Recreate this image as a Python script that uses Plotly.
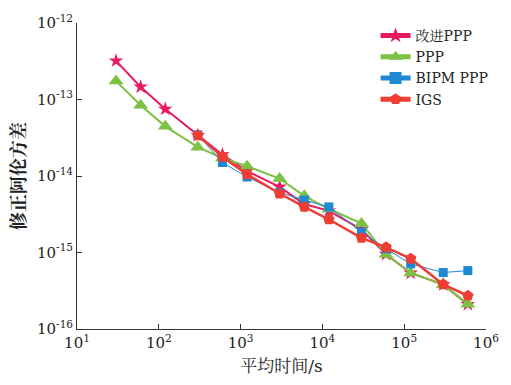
import plotly.graph_objects as go

tau_full = [30, 60, 120, 300, 600, 1200, 3000, 6000, 12000, 30000, 60000, 120000, 300000, 600000]
tau_short = [300, 600, 1200, 3000, 6000, 12000, 30000, 60000, 120000, 300000, 600000]

improved_ppp = [3.2e-13, 1.46e-13, 7.5e-14, 3.4e-14, 1.9e-14, 1.16e-14, 7.2e-15, 4.3e-15,
                3.5e-15, 2.0e-15, 9.5e-16, 5.4e-16, 3.8e-16, 2.1e-16]
ppp = [1.74e-13, 8.4e-14, 4.46e-14, 2.38e-14, 1.72e-14, 1.34e-14, 9.25e-15, 5.5e-15,
       3.7e-15, 2.4e-15, 9.4e-16, 5.4e-16, 3.8e-16, 2.1e-16]
bipm_ppp = [3.45e-14, 1.5e-14, 9.7e-15, 6.1e-15, 4.83e-15, 3.94e-15, 1.85e-15, 1.12e-15,
            7.1e-16, 5.47e-16, 5.8e-16]
igs = [3.4e-14, 1.78e-14, 1.05e-14, 5.9e-15, 3.94e-15, 2.7e-15, 1.55e-15, 1.17e-15,
       8.3e-16, 3.82e-16, 2.72e-16]

x_exps = [1, 2, 3, 4, 5, 6]
y_exps = [-16, -15, -14, -13, -12]

names = ["改进PPP", "PPP", "BIPM PPP", "IGS"]
colors = ["#E8195E", "#7DC142", "#1E88D2", "#EE3D33"]

FONT = "DejaVu Serif, Noto Serif CJK SC, Noto Sans CJK SC, serif"

fig = go.Figure()
fig.add_trace(go.Scatter(x=tau_full, y=improved_ppp, name=names[0], mode="lines+markers",
                         line=dict(color=colors[0], width=2),
                         marker=dict(symbol="star", size=11, color=colors[0])))
fig.add_trace(go.Scatter(x=tau_full, y=ppp, name=names[1], mode="lines+markers",
                         line=dict(color=colors[1], width=2),
                         marker=dict(symbol="triangle-up", size=13, color=colors[1])))
fig.add_trace(go.Scatter(x=tau_short, y=bipm_ppp, name=names[2], mode="lines+markers",
                         line=dict(color=colors[2], width=1),
                         marker=dict(symbol="square", size=9, color=colors[2])))
fig.add_trace(go.Scatter(x=tau_short, y=igs, name=names[3], mode="lines+markers",
                         line=dict(color=colors[3], width=2.5),
                         marker=dict(symbol="pentagon", size=12, color=colors[3])))

axis_common = dict(
    type="log", tickmode="array",
    showgrid=False, zeroline=False, showline=True, linecolor="#333333", linewidth=1,
    ticks="inside", ticklen=5, tickcolor="#333333",
    tickfont=dict(family=FONT, size=15, color="#222222"),
)

fig.update_xaxes(range=[1, 6],
                 tickvals=[10.0 ** e for e in x_exps],
                 ticktext=[f"10<sup>{e}</sup>" for e in x_exps],
                 title=dict(text="平均时间/s", font=dict(family=FONT, size=17, color="#222222"), standoff=9),
                 **axis_common)
fig.update_yaxes(range=[-16, -12],
                 tickvals=[10.0 ** e for e in y_exps],
                 ticktext=[f"10<sup>{e}</sup>" for e in y_exps],
                 title=dict(text="<b>修正阿伦方差</b>", font=dict(family=FONT, size=18, color="#222222"), standoff=6),
                 **axis_common)

fig.update_layout(
    width=511, height=385,
    margin=dict(l=77, r=15, t=15, b=54),
    paper_bgcolor="white", plot_bgcolor="white",
    font=dict(family=FONT, size=15, color="#222222"),
    legend=dict(x=0.73, y=1.01, xanchor="left", yanchor="top", bgcolor="rgba(0,0,0,0)",
                font=dict(family=FONT, size=14), tracegroupgap=0, itemsizing="constant"),
)

fig.write_html("out.html")
